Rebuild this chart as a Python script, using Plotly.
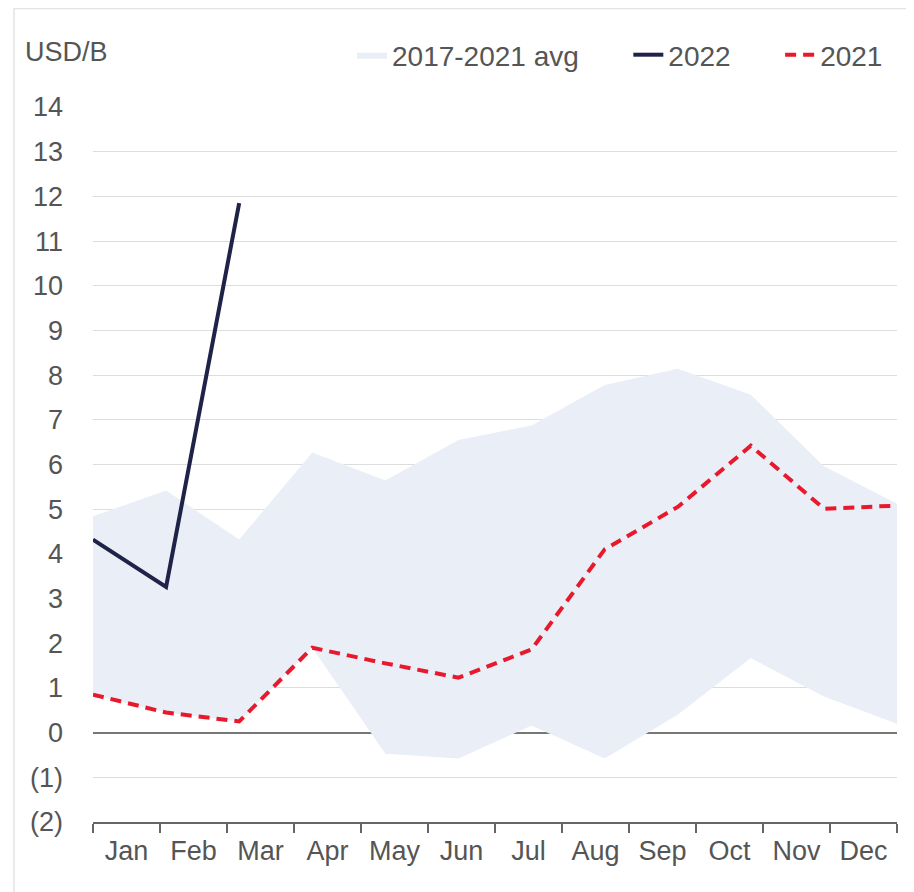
import plotly.graph_objects as go

months = ["Jan", "Feb", "Mar", "Apr", "May", "Jun", "Jul", "Aug", "Sep", "Oct", "Nov", "Dec"]
band_upper = [4.84, 5.42, 4.32, 6.27, 5.64, 6.55, 6.87, 7.78, 8.14, 7.56, 5.96, 5.12]
band_lower = [0.85, 0.45, 0.25, 1.9, -0.47, -0.58, 0.16, -0.58, 0.4, 1.67, 0.81, 0.2]
y2022 = [4.32, 3.26, 11.85]
y2021 = [0.85, 0.45, 0.25, 1.9, 1.55, 1.23, 1.86, 4.1, 5.05, 6.42, 5.01, 5.08]
y_ticks = list(range(-2, 15))
y_ticktext = [f"({-v})" if v < 0 else str(v) for v in y_ticks]

x_pts = list(range(len(months)))
n = len(months)
span = n - 1
band_w = span / n

font_family = "'Liberation Sans', Arial, Helvetica, sans-serif"
txt_color = "#555555"
fs = 27
W, H = 906, 884
L, R, T, B = 85, 17, 99, 70
pad = "\u00a0" * 5 + "\u2009"

fig = go.Figure()
fig.add_trace(go.Scatter(x=x_pts, y=band_lower, mode="lines", line=dict(width=0, color="rgba(0,0,0,0)"),
                         showlegend=False, hoverinfo="skip"))
fig.add_trace(go.Scatter(x=x_pts, y=band_upper, mode="lines", fill="tonexty",
                         fillcolor="#E9EEF7", line=dict(width=0, color="#E9EEF7"),
                         name="2017-2021 avg" + pad))
fig.add_trace(go.Scatter(x=x_pts[:len(y2022)], y=y2022, mode="lines",
                         line=dict(color="#1E2347", width=4), name="2022" + pad))
fig.add_trace(go.Scatter(x=x_pts, y=y2021, mode="lines",
                         line=dict(color="#E8192C", width=4, dash="11px,7px"), name="2021"))

fig.update_layout(
    width=W, height=H,
    margin=dict(l=L, r=R, t=T, b=B, autoexpand=False),
    paper_bgcolor="white", plot_bgcolor="white",
    font=dict(family=font_family, size=fs, color=txt_color),
    showlegend=True,
    legend=dict(orientation="h", xref="container", yref="container",
                x=(882 - 8 + 6) / W, xanchor="right", y=1 - 47 / H, yanchor="middle",
                font=dict(size=28, color=txt_color), bgcolor="rgba(0,0,0,0)",
                traceorder="normal", itemwidth=30),
    xaxis=dict(range=[0, span], tickmode="array",
               tickvals=[(i + 0.5) * band_w for i in range(n)], ticktext=months,
               ticks="", showgrid=False, zeroline=False, showline=True, automargin=False,
               linecolor="#666666", linewidth=1.5, tickfont=dict(size=fs, color=txt_color),
               ticklabelstandoff=4,
               minor=dict(tickmode="array", tickvals=[i * band_w for i in range(n + 1)],
                          ticks="outside", ticklen=9, tickcolor="#666666", tickwidth=1.5,
                          showgrid=False),
               fixedrange=True),
    yaxis=dict(range=[-2, 14], tickmode="array", tickvals=y_ticks, ticktext=y_ticktext,
               showgrid=True, gridcolor="#DDDDDD", gridwidth=1.2, automargin=False,
               zeroline=True, zerolinecolor="#777777", zerolinewidth=1.8,
               showline=False, ticks="", ticklabelstandoff=29,
               tickfont=dict(size=fs, color=txt_color), fixedrange=True),
    annotations=[dict(text="USD/B", xref="paper", yref="paper", x=(15 - L) / 804, y=1 + (T - 44) / 715,
                      xanchor="left", yanchor="middle", showarrow=False,
                      font=dict(size=fs, color=txt_color))],
    shapes=[
        dict(type="line", xref="paper", yref="paper", x0=(6 - L) / 804, x1=(6 - L) / 804,
             y0=-B / 715 - 0.01, y1=1 + T / 715, line=dict(color="#E3E3E3", width=1.5), layer="below"),
        dict(type="line", xref="paper", yref="paper", x0=(6 - L) / 804, x1=1 + R / 804 + 0.01,
             y0=1 + (T - 0.5) / 715, y1=1 + (T - 0.5) / 715, line=dict(color="#E3E3E3", width=1.5), layer="below"),
    ],
)

fig.write_html("out.html")
